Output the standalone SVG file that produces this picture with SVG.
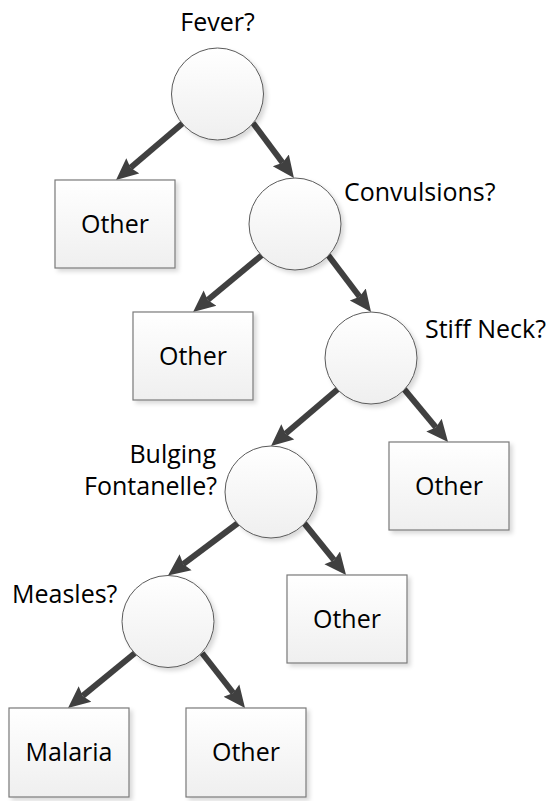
<svg xmlns="http://www.w3.org/2000/svg" width="555" height="801" viewBox="0 0 555 801">
<style>
.node{fill:url(#g);filter:url(#sh)}
.c{stroke:#5a5a5a;stroke-width:1}
.b{stroke:#7a7a7a;stroke-width:1.2}
.t{font-family:"Open Sans","Liberation Sans",sans-serif;font-size:25px;fill:#000}
.m{text-anchor:middle}
.e{text-anchor:end}
.edge{stroke:#404040;stroke-width:6;fill:none;marker-end:url(#ah)}
</style>
<defs>
<linearGradient id="g" x1="0" y1="0" x2="0" y2="1">
<stop offset="0" stop-color="#ffffff"/>
<stop offset="1" stop-color="#efefef"/>
</linearGradient>
<filter id="sh" x="-20%" y="-20%" width="140%" height="140%">
<feDropShadow dx="3" dy="3" stdDeviation="2" flood-color="#000" flood-opacity="0.15"/>
</filter>
<marker id="ah" markerUnits="userSpaceOnUse" markerWidth="24" markerHeight="22" viewBox="0 -11 24 22" refX="3" refY="0" orient="auto">
<path d="M0,-10 L22,0 L0,10 L3,0 z" fill="#404040"/>
</marker>
</defs>
<g id="edges">
<line class="edge" x1="183" y1="123" x2="130.5" y2="167.7"/>
<line class="edge" x1="253" y1="123" x2="282.6" y2="162.8"/>
<line class="edge" x1="262" y1="255" x2="207.7" y2="300"/>
<line class="edge" x1="328" y1="255" x2="359.6" y2="296.8"/>
<line class="edge" x1="338" y1="389" x2="285.5" y2="433.7"/>
<line class="edge" x1="404" y1="389" x2="435.9" y2="427.4"/>
<line class="edge" x1="238" y1="523" x2="183.2" y2="564.1"/>
<line class="edge" x1="304" y1="523" x2="334.1" y2="560.2"/>
<line class="edge" x1="135" y1="653" x2="82.7" y2="695.9"/>
<line class="edge" x1="202" y1="653" x2="233.3" y2="693"/>
</g>
<g id="fever">
<circle class="node c" cx="217.5" cy="94" r="46"/>
<text class="t m" x="217.5" y="31">Fever?</text>
</g>
<g id="other1">
<rect class="node b" x="55" y="180" width="120" height="88"/>
<text class="t m" x="115" y="233">Other</text>
</g>
<g id="convulsions">
<circle class="node c" cx="295" cy="224" r="46"/>
<text class="t" x="344" y="201">Convulsions?</text>
</g>
<g id="other2">
<rect class="node b" x="133" y="312" width="120" height="88"/>
<text class="t m" x="193" y="365">Other</text>
</g>
<g id="stiffneck">
<circle class="node c" cx="371" cy="358" r="46"/>
<text class="t" x="425" y="338">Stiff Neck?</text>
</g>
<g id="other3">
<rect class="node b" x="389" y="442" width="120" height="88"/>
<text class="t m" x="449" y="495">Other</text>
</g>
<g id="bulging">
<circle class="node c" cx="271" cy="492" r="46"/>
<text class="t e" x="216" y="463">Bulging</text>
<text class="t e" x="217" y="495">Fontanelle?</text>
</g>
<g id="other4">
<rect class="node b" x="287" y="575" width="120" height="88"/>
<text class="t m" x="347" y="628">Other</text>
</g>
<g id="measles">
<circle class="node c" cx="168" cy="621.5" r="46"/>
<text class="t" x="12" y="603">Measles?</text>
</g>
<g id="malaria">
<rect class="node b" x="9" y="708" width="120" height="89"/>
<text class="t m" x="69" y="761">Malaria</text>
</g>
<g id="other5">
<rect class="node b" x="186" y="708" width="120" height="89"/>
<text class="t m" x="246" y="761">Other</text>
</g>
</svg>
